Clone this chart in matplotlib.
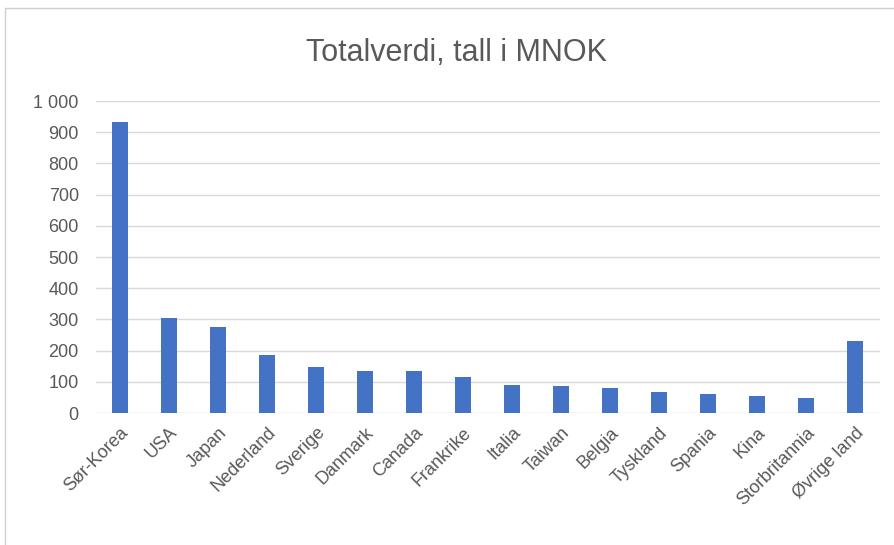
"""Chart: Totalverdi per land, tall i MNOK (Excel-style column chart)."""
import matplotlib
matplotlib.use("Agg")
import matplotlib.pyplot as plt
from matplotlib.patches import Rectangle
from matplotlib.ticker import FuncFormatter
import numpy as np

countries = ["Sør-Korea", "USA", "Japan", "Nederland", "Sverige", "Danmark",
             "Canada", "Frankrike", "Italia", "Taiwan", "Belgia", "Tyskland",
             "Spania", "Kina", "Storbritannia", "Øvrige land"]
values = [934, 306, 275, 186, 146, 134, 134, 116, 91, 85, 79, 67, 61, 54, 49, 232]
yticks = [0, 100, 200, 300, 400, 500, 600, 700, 800, 900, 1000]

W, H = 894, 545
fig = plt.figure(figsize=(W / 100, H / 100), dpi=100)
fig.patch.set_facecolor("white")
plt.rcParams["font.family"] = ["Liberation Sans", "DejaVu Sans"]
txt = "#595959"

# outer chart border, cropped on right/bottom like the screenshot
fig.patches.append(Rectangle((5 / W, -0.05), 1.1, 1 - 8 / H + 0.05,
                             transform=fig.transFigure, fill=False,
                             edgecolor="#d0d0d0", lw=1))

ax = fig.add_axes([95.5 / W, 1 - 413 / H, 784 / W, 312 / H])
x = np.arange(len(countries))
ax.bar(x, values, 0.31, color="#4472C4", zorder=3)
ax.set_xlim(-0.5, len(countries) - 0.5)
ax.set_ylim(0, 1000)
ax.set_yticks(yticks)
ax.yaxis.set_major_formatter(FuncFormatter(lambda v, p: f"{int(v):,}".replace(",", " ")))
ax.set_xticks(x)
ax.set_xticklabels(countries, rotation=45, ha="right", rotation_mode="anchor")
ax.tick_params(length=0, colors=txt, labelsize=13)
ax.tick_params(axis="y", pad=12)
ax.tick_params(axis="x", pad=8)
ax.grid(axis="y", color="#d9d9d9", lw=1, zorder=0)
for s in ax.spines.values():
    s.set_visible(False)

fig.text(457 / W, 1 - 53 / H, "Totalverdi, tall i MNOK", ha="center", va="center",
         fontsize=22, color=txt)

fig.savefig("out.png", dpi=100, facecolor="white")
